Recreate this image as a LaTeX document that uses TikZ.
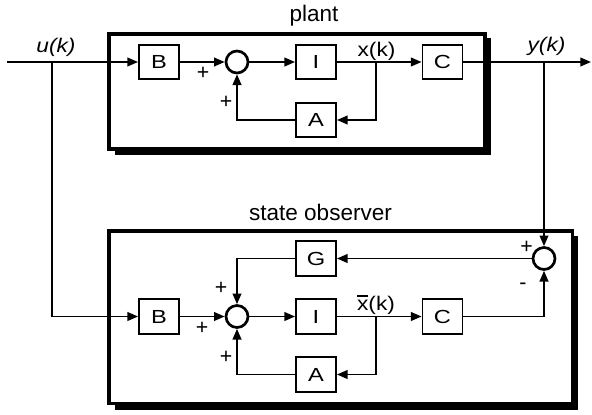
\documentclass[tikz,border=0pt]{standalone}
\usepackage{graphicx}
\usepackage{fontspec}
\setmainfont{Liberation Sans}
\usetikzlibrary{arrows.meta}
\newcommand\wtext[2]{\scalebox{#1}[1]{#2}}
\newcommand\myxbar{\setbox0\hbox{x}\rlap{\rule[0.7em]{\wd0}{0.08em}}x}
\begin{document}
\begin{tikzpicture}[x=0.75pt,y=-0.75pt,
  blk/.style={draw,line width=1.4pt,minimum width=30pt,minimum height=25.7pt,inner sep=0pt,font=\fontsize{14.2}{16}\selectfont},
  sumc/.style={draw,circle,line width=2pt,minimum size=16.5pt,inner sep=0pt},
  conn/.style={line width=1.4pt},
  arr/.style={conn,-{Triangle[length=8pt,width=6.5pt]}},
  lab/.style={font=\fontsize{14.8}{17}\selectfont,inner sep=0pt},
  sgn/.style={font=\fontsize{16}{17}\selectfont,inner sep=0pt},
  ttl/.style={font=\fontsize{16.9}{20}\selectfont,inner sep=0pt},
  outerbox/.style={draw,fill=white,line width=2.6pt}]
\useasboundingbox (0,0) rectangle (592,414);
% plant frame
\fill (115,38) rectangle (491,155);
\draw[outerbox] (109,34) rectangle (485,149);
% observer frame
\fill (115,236) rectangle (578,410);
\draw[outerbox] (109,231) rectangle (572.5,403.5);
% titles
\node[ttl] (tplant) at (314,16) {plant};
\node[ttl] (tobs) at (320.5,212) {state observer};
% plant blocks
\node[blk] (B1) at (159,62) {\wtext{1.25}{B}};
\node[sumc] (S1) at (237,62) {};
\node[blk] (I1) at (316,62) {\wtext{1.25}{I}};
\node[blk] (C1) at (442.5,62) {\wtext{1.25}{C}};
\node[blk] (A1) at (316,120) {\wtext{1.25}{A}};
% observer blocks
\node[blk] (G) at (316,258.5) {\wtext{1.25}{G}};
\node[sumc] (S2) at (544,258.5) {};
\node[blk] (B2) at (159,316.5) {\wtext{1.25}{B}};
\node[sumc] (S3) at (237,316.5) {};
\node[blk] (I2) at (316,316.5) {\wtext{1.25}{I}};
\node[blk] (C2) at (442.5,316.5) {\wtext{1.25}{C}};
\node[blk] (A2) at (316,374.5) {\wtext{1.25}{A}};
% coordinates
\coordinate (in) at (7,62);
\coordinate (ub) at (52,62);
\coordinate (xb1) at (376,62);
\coordinate (yb) at (544,62);
\coordinate (out) at (591,62);
\coordinate (xb2) at (376,316.5);
% plant connectors
\draw[conn] (in) -- (ub);
\draw[arr] (ub) -- (B1);
\draw[arr] (B1) -- (S1);
\draw[arr] (S1) -- (I1);
\draw[conn] (I1) -- (xb1);
\draw[arr] (xb1) -- (C1);
\draw[arr] (xb1) |- (A1);
\draw[arr] (A1) -| (S1);
\draw[conn] (C1) -- (yb);
\draw[arr] (yb) -- (out);
% observer connectors
\draw[arr] (ub) |- (B2);
\draw[arr] (yb) -- (S2);
\draw[arr] (S2) -- (G);
\draw[arr] (G) -| (S3);
\draw[arr] (B2) -- (S3);
\draw[arr] (S3) -- (I2);
\draw[conn] (I2) -- (xb2);
\draw[arr] (xb2) -- (C2);
\draw[arr] (xb2) |- (A2);
\draw[arr] (A2) -| (S3);
\draw[arr] (C2) -| (S2);
% labels
\node[lab,anchor=south] (lu) at (56,57) {\wtext{1.15}{\itshape u(k)}};
\node[lab,anchor=south] (ly) at (546.5,55.5) {\wtext{1.15}{\itshape y(k)}};
\node[lab,anchor=south] (lx) at (376.5,60.5) {\wtext{1.15}{x(k)}};
\node[lab,anchor=south] (lxb) at (376,315) {\wtext{1.15}{\myxbar(k)}};
% signs
\node[sgn] (p1) at (203,73) {+};
\node[sgn] (p2) at (226,102) {+};
\node[sgn] (p3) at (221,288) {+};
\node[sgn] (p4) at (202,328) {+};
\node[sgn] (p5) at (226,357) {+};
\node[sgn] (p6) at (526.5,247) {+};
\node[sgn] (m1) at (523,286.5) {-};
\end{tikzpicture}
\end{document}
